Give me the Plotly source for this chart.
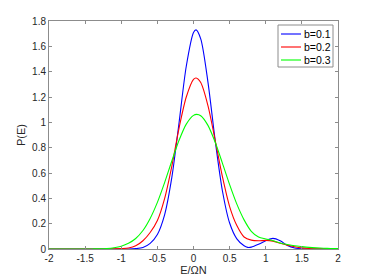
import plotly.graph_objects as go

# b = 0.1
x_b1 = [-2.0, -1.5, -1.0, -0.9, -0.8, -0.7, -0.6, -0.5, -0.4, -0.3, -0.2, -0.1, 0.0, 0.035, 0.1, 0.2, 0.3, 0.4, 0.5, 0.6, 0.7, 0.75, 0.8, 0.9, 1.0, 1.1, 1.2, 1.3, 1.4, 1.5, 1.6, 2.0]
y_b1 = [0.0, 0.0, 0.0, 0.0, 0.003, 0.012, 0.045, 0.115, 0.27, 0.565, 0.997, 1.443, 1.709, 1.73, 1.659, 1.318, 0.857, 0.46, 0.205, 0.08, 0.025, 0.013, 0.015, 0.037, 0.065, 0.084, 0.065, 0.027, 0.008, 0.002, 0.0, 0.0]

# b = 0.2
x_b2 = [-2.0, -1.5, -1.2, -1.1, -1.0, -0.9, -0.8, -0.7, -0.6, -0.5, -0.4, -0.3, -0.2, -0.1, 0.0, 0.035, 0.1, 0.2, 0.3, 0.4, 0.5, 0.6, 0.7, 0.8, 0.9, 1.0, 1.1, 1.2, 1.3, 1.4, 1.5, 1.6, 1.7, 2.0]
y_b2 = [0.0, 0.0, 0.0, 0.001, 0.003, 0.008, 0.025, 0.065, 0.13, 0.225, 0.398, 0.654, 0.955, 1.2, 1.339, 1.35, 1.314, 1.132, 0.858, 0.572, 0.335, 0.185, 0.095, 0.07, 0.065, 0.068, 0.062, 0.045, 0.03, 0.018, 0.009, 0.004, 0.002, 0.0]

# b = 0.3
x_b3 = [-2.0, -1.5, -1.4, -1.3, -1.2, -1.1, -1.0, -0.9, -0.8, -0.7, -0.6, -0.5, -0.4, -0.3, -0.2, -0.1, 0.0, 0.045, 0.1, 0.2, 0.3, 0.4, 0.5, 0.6, 0.7, 0.8, 0.9, 1.0, 1.1, 1.2, 1.3, 1.4, 1.5, 1.6, 1.7, 1.8, 1.9, 2.0]
y_b3 = [0.0, 0.0, 0.0005, 0.0015, 0.004, 0.01, 0.022, 0.045, 0.083, 0.146, 0.241, 0.368, 0.524, 0.695, 0.858, 0.986, 1.055, 1.063, 1.052, 0.976, 0.843, 0.678, 0.508, 0.354, 0.23, 0.14, 0.095, 0.079, 0.065, 0.048, 0.036, 0.026, 0.019, 0.013, 0.009, 0.006, 0.004, 0.003]

series_names = ["b=0.1", "b=0.2", "b=0.3"]
series_x = [x_b1, x_b2, x_b3]
series_y = [y_b1, y_b2, y_b3]
series_colors = ["#0000ff", "#ff0000", "#00ff00"]

x_ticks = [-2, -1.5, -1, -0.5, 0, 0.5, 1, 1.5, 2]
x_ticklabels = ["-2", "-1.5", "-1", "-0.5", "0", "0.5", "1", "1.5", "2"]
y_ticks = [0, 0.2, 0.4, 0.6, 0.8, 1.0, 1.2, 1.4, 1.6, 1.8]
y_ticklabels = ["0", "0.2", "0.4", "0.6", "0.8", "1", "1.2", "1.4", "1.6", "1.8"]

FONT = "Liberation Sans, Arial"
AXC = "#8c8c8c"

# figure geometry (the page adds an 8px body margin on the left/top)
W, H = 374, 280
ML, MR, MT, MB = 41, 44, 13, 39
PW, PH = W - ML - MR, H - MT - MB


def px_x(p):
    return (p - ML) / PW


def px_y(p):
    return (H - MB - p) / PH


fig = go.Figure()
for name, xs, ys, col in zip(series_names, series_x, series_y, series_colors):
    fig.add_trace(go.Scatter(x=xs, y=ys, mode="lines", name=name, showlegend=False,
                             line=dict(color=col, width=1.1, shape="spline", smoothing=0.8)))

axis_common = dict(showline=True, linecolor=AXC, linewidth=1, mirror="ticks",
                   ticks="inside", ticklen=3, tickcolor=AXC, showgrid=False,
                   zeroline=False, automargin=False,
                   tickfont=dict(family=FONT, size=10, color="#262626"))

fig.update_xaxes(range=[-2, 2], tickvals=x_ticks, ticktext=x_ticklabels,
                 title=dict(text="E/ΩN", font=dict(family=FONT, size=11, color="#262626"), standoff=0),
                 **axis_common)
fig.update_yaxes(range=[0, 1.8], tickvals=y_ticks, ticktext=y_ticklabels,
                 title=dict(text="P(E)", font=dict(family=FONT, size=11, color="#262626"), standoff=4),
                 **axis_common)

# legend box drawn like the MATLAB one (compact rows)
box_l, box_r, box_t, box_b = 270, 325, 17, 59
row_y = [26, 39, 52]
shapes = [dict(type="rect", xref="paper", yref="paper",
               x0=px_x(box_l), x1=px_x(box_r), y0=px_y(box_b), y1=px_y(box_t),
               line=dict(color=AXC, width=1), fillcolor="white", layer="above")]
annotations = []
for name, col, ry in zip(series_names, series_colors, row_y):
    shapes.append(dict(type="line", xref="paper", yref="paper",
                       x0=px_x(273), x1=px_x(293), y0=px_y(ry), y1=px_y(ry),
                       line=dict(color=col, width=1.1), layer="above"))
    annotations.append(dict(xref="paper", yref="paper", x=px_x(294), y=px_y(ry),
                            xanchor="left", yanchor="middle", showarrow=False,
                            text=name, font=dict(family=FONT, size=10.5, color="#000000")))

fig.update_layout(
    width=W, height=H,
    margin=dict(l=ML, r=MR, t=MT, b=MB),
    paper_bgcolor="white", plot_bgcolor="white",
    showlegend=False,
    shapes=shapes, annotations=annotations,
)

fig.write_html("out.html")
